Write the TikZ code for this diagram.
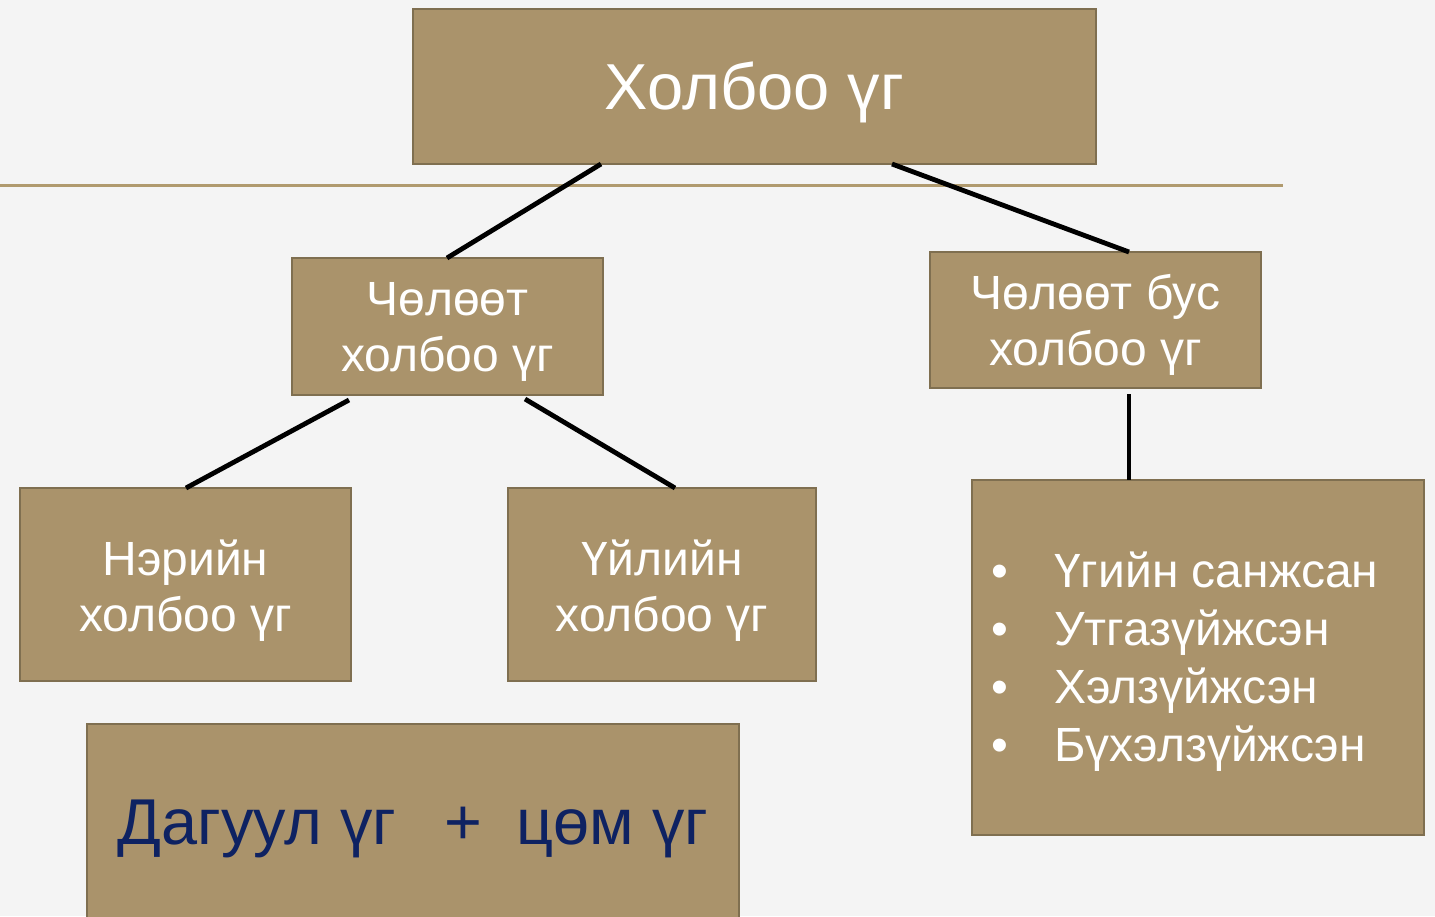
\documentclass[tikz,border=0pt]{standalone}
\usepackage{fontspec}
\setmainfont{Liberation Sans}
\definecolor{bgc}{HTML}{F4F4F4}
\definecolor{boxfill}{HTML}{AA936B}
\definecolor{boxline}{HTML}{7F6F50}
\definecolor{rulec}{HTML}{B09A6E}
\definecolor{navy}{HTML}{0E2262}
\tikzset{
  box/.style={draw=boxline, fill=boxfill, line width=1pt, inner sep=0pt, outer sep=0pt},
  lbl/.style={text=white, inner sep=0pt, align=center, font=\fontsize{24}{28}\selectfont},
  conn/.style={line width=2.4pt, black},
}
\begin{document}
\begin{tikzpicture}[x=0.5pt,y=-0.5pt]
\fill[bgc] (0,0) rectangle (1435,916);
\useasboundingbox (0,0) rectangle (1435,916);
\draw[rulec, line width=1.5pt] (0,185) -- (1283,185);
\node[box, minimum width=341.5pt, minimum height=77.5pt] (top) at (754.5,86.5) {};
\node[lbl, font=\fontsize{32.5}{38}\selectfont, yshift=-3pt] (toptext) at (top.center) {Холбоо үг};
\node[box, minimum width=155.5pt, minimum height=68.5pt] (free) at (447.5,326.5) {};
\node[lbl, yshift=-2.5pt] (freetext) at (free.center) {Чөлөөт\\холбоо үг};
\node[box, minimum width=165.5pt, minimum height=68pt] (nonfree) at (1095.5,320) {};
\node[lbl, yshift=-2.5pt] (nonfreetext) at (nonfree.center) {Чөлөөт бус\\холбоо үг};
\node[box, minimum width=165.5pt, minimum height=96.5pt] (ner) at (185.5,584.5) {};
\node[lbl, yshift=-3pt] (nertext) at (ner.center) {Нэрийн\\холбоо үг};
\node[box, minimum width=154pt, minimum height=96.5pt] (uil) at (662,584.5) {};
\node[lbl, yshift=-3pt] (uiltext) at (uil.center) {Үйлийн\\холбоо үг};
\node[box, minimum width=226pt, minimum height=177.5pt] (list) at (1198,657.5) {};
\node[text=white, inner sep=0pt, anchor=west, align=left] (listtext) at (991,663)
  {\fontsize{24}{29}\selectfont
   \begin{tabular}{@{}l@{\hspace{23pt}}l@{}}
   • & Үгийн санжсан\\
   • & Утгазүйжсэн\\
   • & Хэлзүйжсэн\\
   • & Бүхэлзүйжсэн
   \end{tabular}};
\node[box, minimum width=326pt, minimum height=105pt] (dag) at (413,829) {};
\node[text=navy, inner sep=0pt, font=\fontsize{32.4}{38}\selectfont] (dagtext) at (413,829)
  {Дагуул үг\hspace{24pt}+\hspace{17pt}цөм үг};
\draw[conn] ([xshift=-76.75pt]top.south) -- ([xshift=-0.25pt]free.north);
\draw[conn] ([xshift=68.75pt]top.south) -- ([xshift=16.75pt]nonfree.north);
\draw[conn] ([xshift=-49.25pt,yshift=-2.5pt]free.south) -- ([xshift=0.25pt]ner.north);
\draw[conn] ([xshift=38.75pt,yshift=-2pt]free.south) -- ([xshift=6.5pt]uil.north);
\draw[conn] ([xshift=16.75pt,yshift=-3pt]nonfree.south) -- ([xshift=-34.5pt]list.north);
\end{tikzpicture}
\end{document}
